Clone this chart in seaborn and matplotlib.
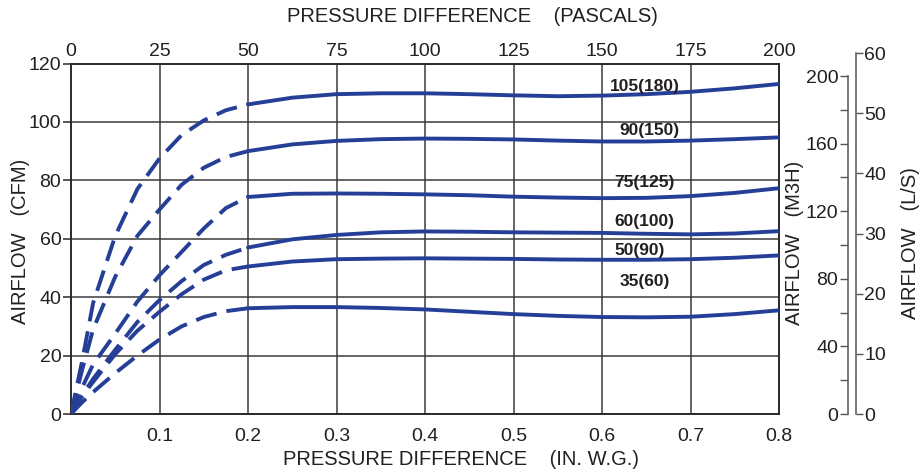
import numpy as np
import pandas as pd
import matplotlib
matplotlib.use("Agg")
import matplotlib.pyplot as plt
import seaborn as sns

# ---- data ----
curve_labels = ["105(180)", "90(150)", "75(125)", "60(100)", "50(90)", "35(60)"]

x_dash = [0, 0.0125, 0.025, 0.05, 0.075, 0.1, 0.125, 0.15, 0.175, 0.2]
y_dash_105 = [0, 18, 38, 61, 77, 87.5, 95.5, 100.5, 104, 106]
y_dash_90 = [0, 15, 29, 47, 61, 70, 78.5, 84.3, 88, 90]
y_dash_75 = [0, 9, 17, 27.5, 38.5, 47.5, 55.5, 63.5, 70.5, 74.3]
y_dash_60 = [0, 6.5, 12, 22, 31.5, 39, 45.5, 51, 54.5, 57]
y_dash_50 = [0, 6, 11, 20.5, 28.5, 35, 41, 46, 49.2, 50.5]
y_dash_35 = [0, 4, 7.5, 14, 20, 25.5, 30, 33.2, 35.2, 36.2]

x_solid = [0.2, 0.25, 0.3, 0.35, 0.4, 0.45, 0.5, 0.55, 0.6, 0.65, 0.7, 0.75, 0.8]
y_solid_105 = [106, 108.3, 109.5, 109.8, 109.8, 109.5, 109.1, 108.8, 109, 109.5, 110.3, 111.5, 113]
y_solid_90 = [90, 92.3, 93.5, 94.1, 94.3, 94.2, 94, 93.6, 93.3, 93.3, 93.6, 94.1, 94.7]
y_solid_75 = [74.3, 75.4, 75.5, 75.4, 75.2, 74.9, 74.4, 74.1, 73.9, 74, 74.6, 75.7, 77.3]
y_solid_60 = [57, 59.8, 61.3, 62.2, 62.5, 62.4, 62.2, 62.1, 62, 61.7, 61.5, 61.8, 62.6]
y_solid_50 = [50.5, 52.2, 53, 53.2, 53.3, 53.2, 53.1, 52.9, 52.8, 52.8, 53, 53.5, 54.3]
y_solid_35 = [36.2, 36.6, 36.6, 36.3, 35.8, 35, 34.2, 33.6, 33.2, 33.1, 33.3, 34.2, 35.5]

label_x = [0.648, 0.654, 0.648, 0.648, 0.643, 0.648]
label_y = [112.1, 97.0, 79.1, 66.0, 56.0, 45.4]

bottom_ticks = [0.1, 0.2, 0.3, 0.4, 0.5, 0.6, 0.7, 0.8]
top_ticks = [0, 25, 50, 75, 100, 125, 150, 175, 200]
cfm_ticks = [0, 20, 40, 60, 80, 100, 120]
m3h_major = [0, 40, 80, 120, 160, 200]
m3h_minor = [20, 60, 100, 140, 180]
ls_ticks = [0, 10, 20, 30, 40, 50, 60]

dash_sets = [y_dash_105, y_dash_90, y_dash_75, y_dash_60, y_dash_50, y_dash_35]
solid_sets = [y_solid_105, y_solid_90, y_solid_75, y_solid_60, y_solid_50, y_solid_35]

# ---- style ----
sns.set_theme(style="white")
plt.rcParams["font.family"] = ["Liberation Sans", "DejaVu Sans"]
TXT = "#231f20"
BLUE = "#253f97"
GRID = "#3a3a3a"

W, H = 922, 473
fig = plt.figure(figsize=(W / 100, H / 100), dpi=100)

L, R, T, B = 71, 779, 63.5, 414
ax = fig.add_axes([L / W, 1 - B / H, (R - L) / W, (B - T) / H])

for lab, yd, ys in zip(curve_labels, dash_sets, solid_sets):
    dfd = pd.DataFrame({"x": x_dash, "y": yd})
    dfs = pd.DataFrame({"x": x_solid, "y": ys})
    sns.lineplot(data=dfd, x="x", y="y", ax=ax, color=BLUE, lw=2.8,
                 linestyle=(0, (5.5, 2.6)), sort=False, estimator=None,
                 solid_capstyle="butt", dash_capstyle="butt", zorder=3)
    sns.lineplot(data=dfs, x="x", y="y", ax=ax, color=BLUE, lw=2.8,
                 sort=False, estimator=None, solid_capstyle="round", zorder=3)

for lab, lx, ly in zip(curve_labels, label_x, label_y):
    ax.text(lx, ly, lab, ha="center", va="center", fontsize=12.5,
            fontweight="bold", color=TXT, zorder=4)

ax.set_xlim(0, 0.8)
ax.set_ylim(0, 120)
ax.set_xticks(bottom_ticks)
ax.set_xticklabels([f"{t:g}" for t in bottom_ticks])
ax.set_yticks(cfm_ticks)
ax.set_yticklabels([str(t) for t in cfm_ticks])
ax.grid(True, color=GRID, lw=1.1)
ax.set_axisbelow(True)
for s in ax.spines.values():
    s.set_color("#2a2a2a")
    s.set_linewidth(1.4)
ax.tick_params(axis="x", bottom=True, length=0, pad=10, labelsize=14, labelcolor=TXT)
ax.tick_params(axis="y", left=True, length=6, width=1.1, color="#2a2a2a",
               direction="out", pad=1, labelsize=14, labelcolor=TXT)
ax.set_xlabel("")
ax.set_ylabel("")

sec = ax.secondary_xaxis("top", functions=(lambda v: v * 250, lambda p: p / 250))
sec.set_xticks(top_ticks)
sec.set_xticklabels([str(t) for t in top_ticks])
sec.tick_params(length=0, pad=2.5, labelsize=14, labelcolor=TXT)
sec.spines["top"].set_visible(False)

fig.text(472 / W, 1 - 17 / H, "PRESSURE DIFFERENCE    (PASCALS)", ha="center",
         va="center", fontsize=14.5, color=TXT)
fig.text(461 / W, 1 - 459 / H, "PRESSURE DIFFERENCE    (IN. W.G.)", ha="center",
         va="center", fontsize=14.5, color=TXT)
fig.text(21 / W, 1 - 241 / H, "AIRFLOW   (CFM)", rotation=90, ha="center",
         va="center", fontsize=14.5, color=TXT)

# M3H axis
m3h_top = 76
ax2 = fig.add_axes([848 / W, 1 - B / H, 0.0001, (B - m3h_top) / H])
ax2.set_ylim(0, 200)
ax2.set_xticks([])
ax2.patch.set_visible(False)
for k in ["top", "right", "bottom"]:
    ax2.spines[k].set_visible(False)
ax2.spines["left"].set_color("#555555")
ax2.spines["left"].set_linewidth(1.1)
ax2.set_yticks(m3h_major)
ax2.set_yticklabels([str(t) for t in m3h_major])
ax2.set_yticks(m3h_minor, minor=True)
ax2.tick_params(axis="y", which="both", left=True, direction="out", length=6,
                width=1.0, color="#555555", pad=1, labelsize=14, labelcolor=TXT)
fig.text(794 / W, 1 - 243 / H, "AIRFLOW   (M3H)", rotation=90, ha="center",
         va="center", fontsize=14.5, color=TXT)

# L/S axis
ls_top = 53
ax3 = fig.add_axes([856 / W - 0.0001, 1 - B / H, 0.0001, (B - ls_top) / H])
ax3.set_ylim(0, 60)
ax3.set_xticks([])
ax3.patch.set_visible(False)
for k in ["top", "left", "bottom"]:
    ax3.spines[k].set_visible(False)
ax3.spines["right"].set_color("#555555")
ax3.spines["right"].set_linewidth(1.1)
ax3.yaxis.tick_right()
ax3.set_yticks(ls_ticks)
ax3.set_yticklabels([str(t) for t in ls_ticks])
ax3.tick_params(axis="y", right=True, left=False, direction="out", length=5,
                width=1.0, color="#555555", pad=1, labelsize=14, labelcolor=TXT)
fig.text(910 / W, 1 - 243 / H, "AIRFLOW   (L/S)", rotation=90, ha="center",
         va="center", fontsize=14.5, color=TXT)

fig.savefig("out.png", dpi=100, facecolor="white")
